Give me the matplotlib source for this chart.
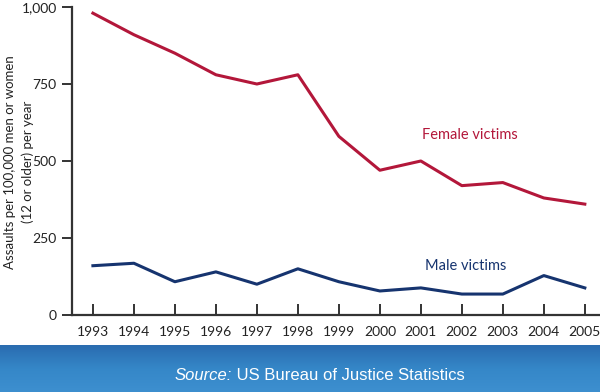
import numpy as np
import matplotlib.pyplot as plt
from matplotlib.colors import LinearSegmentedColormap
from matplotlib.transforms import offset_copy

years = np.arange(1993, 2006)
female = [980, 910, 850, 780, 750, 780, 580, 470, 500, 420, 430, 380, 360]
male = [160, 168, 108, 140, 100, 150, 108, 78, 88, 68, 68, 128, 88]
yticks = [0, 250, 500, 750, 1000]
ytick_labels = ['0', '250', '500', '750', '1,000']

red = '#b3173a'
navy = '#16346f'
axcol = '#333333'

fig = plt.figure(figsize=(6, 3.92), dpi=100)

# blue footer band with gradient
band = fig.add_axes([0, 0, 1, 47 / 392])
grad = np.linspace(0, 1, 50).reshape(-1, 1)
cmap = LinearSegmentedColormap.from_list('b', ['#3d8fcf', '#3587c8', '#2a6cb0'])
band.imshow(grad, aspect='auto', cmap=cmap, extent=[0, 1, 0, 1], origin='lower')
band.set_axis_off()
t1 = band.text(175 / 600, 0.36, 'Source:', ha='left', va='center', color='white',
               fontsize=12, style='italic', family='Liberation Sans',
               transform=band.transAxes)
fig.canvas.draw()
w = t1.get_window_extent().width
band.text(175 / 600, 0.36, ' US Bureau of Justice Statistics', ha='left', va='center',
          color='white', fontsize=12, family='Liberation Sans',
          transform=offset_copy(band.transAxes, fig=fig, x=w, y=0, units='dots'))

ax = fig.add_axes([72 / 600, 1 - 315 / 392, 1 - 72 / 600, 308 / 392])
ax.plot(years, female, color=red, lw=2.2)
ax.plot(years, male, color=navy, lw=2.2)
ax.set_xlim(1992.49, 2005.37)
ax.set_ylim(0, 1000)

for s in ['top', 'right']:
    ax.spines[s].set_visible(False)
for s in ['left', 'bottom']:
    ax.spines[s].set_color(axcol)
    ax.spines[s].set_linewidth(1.6)

ax.set_xticks(years)
ax.set_xticklabels([str(y) for y in years], family='Lato', fontsize=10, color='#222222')
ax.set_yticks(yticks)
ax.set_yticklabels(ytick_labels, family='Lato', fontsize=10, color='#222222')
ax.tick_params(axis='x', direction='in', length=8, width=1.4, color=axcol, pad=8)
ax.tick_params(axis='y', direction='out', length=7, width=1.4, color=axcol, pad=4)

# y label placed at figure level so it stays inside the picture
fig.text(19 / 600, 1 - 162 / 392, 'Assaults per 100,000 men or women\n(12 or older) per year',
         rotation=90, ha='center', va='center', family='Lato', fontsize=9.5,
         color='#222222', linespacing=1.45)

ax.text(2002.2, 584, 'Female victims', color=red, family='Lato', fontsize=10.5,
        ha='center', va='center')
ax.text(2002.1, 159, 'Male victims', color=navy, family='Lato', fontsize=10.5,
        ha='center', va='center')

fig.savefig('out.png', dpi=100)
